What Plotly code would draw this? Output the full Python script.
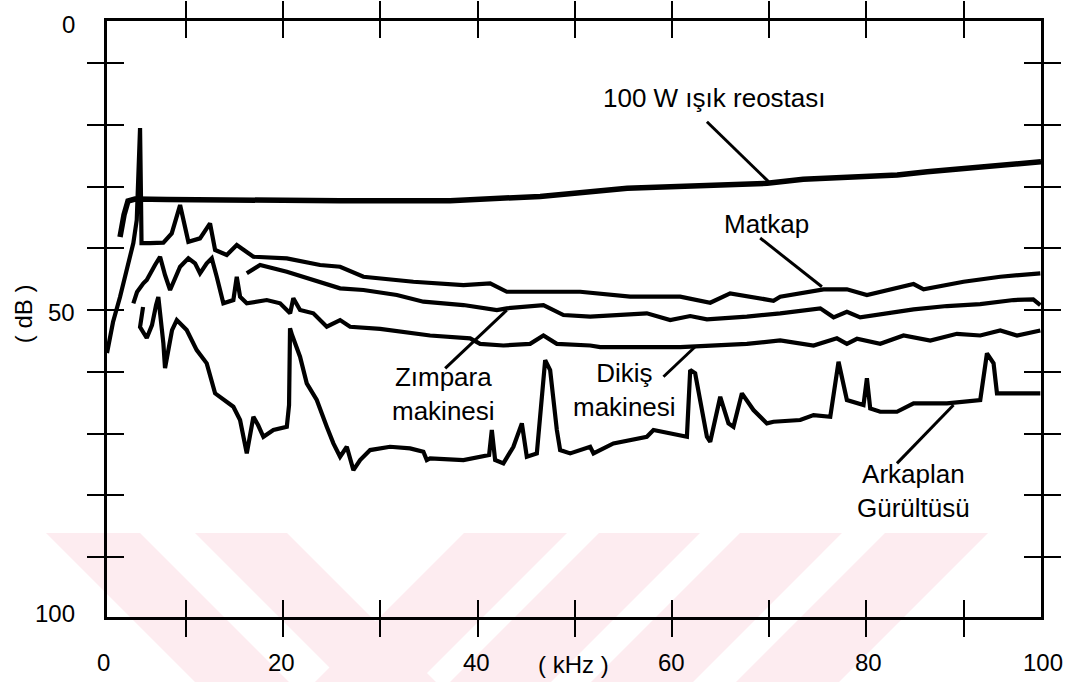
import plotly.graph_objects as go

# ---- measured spectra (frequency in kHz, level in dB) ----
reost_khz = [3.22, 3.63, 4.04, 4.76, 8.06, 16.6, 25.86, 37.18, 46.44, 55.40, 65.27, 69.80,
             73.51, 77.83, 83.18, 86.27, 90.38, 92.75, 95.12, 97.59, 97.97]
reost_db = [38.18, 34.61, 32.35, 32.02, 32.10, 32.27, 32.30, 32.30, 31.60, 30.29, 29.76, 29.48,
            28.83, 28.62, 28.14, 27.60, 27.05, 26.68, 26.36, 26.15, 26.0]

matkap_khz = [1.88, 2.50, 3.22, 3.91, 4.59, 4.94, 5.07, 5.28, 5.38, 5.43, 6.31, 7.68, 8.54,
              9.40, 10.25, 11.45, 12.48, 13.00, 14.20, 15.23, 16.94, 20.38, 23.80, 25.86,
              28.26, 33.40, 38.55, 41.30, 43.01, 48.84, 50.56, 55.70, 60.85, 63.94, 65.99,
              70.45, 71.14, 75.60, 78.00, 80.06, 84.86, 85.89, 90.00, 93.78, 97.90]
matkap_db = [56.96, 51.94, 47.89, 43.52, 39.15, 35.42, 28.46, 20.53, 32.19, 39.15, 39.15,
             39.10, 37.58, 33.00, 38.94, 38.39, 35.96, 40.28, 41.09, 39.47, 41.37, 41.63,
             42.71, 42.99, 44.61, 45.42, 45.95, 45.68, 47.04, 47.04, 47.04, 47.84, 47.84,
             48.82, 47.29, 48.49, 47.84, 46.65, 46.65, 47.57, 45.79, 46.65, 45.42, 44.61, 44.05]

zimpara_khz = [16.26, 17.63, 20.38, 23.11, 25.86, 28.26, 31.70, 34.43, 38.55, 41.99, 43.01,
               46.78, 48.84, 51.59, 57.42, 59.82, 61.88, 63.60, 67.71, 71.14, 75.26, 76.63,
               78.00, 79.37, 82.12, 84.86, 88.29, 91.72, 95.15, 97.17, 97.90]
zimpara_db = [44.05, 42.71, 43.80, 45.14, 46.48, 46.76, 47.57, 48.65, 49.19, 50.00, 49.72,
              49.19, 50.81, 51.08, 50.53, 51.62, 50.97, 51.50, 51.08, 50.53, 49.72, 51.18,
              50.27, 51.18, 50.53, 49.88, 49.35, 49.03, 48.38, 48.27, 49.19]

dikis_khz = [4.59, 4.97, 5.62, 5.97, 6.82, 7.34, 7.85, 8.37, 9.40, 10.25, 10.94, 11.45, 12.14,
             12.66, 13.17, 13.85, 14.88, 15.23, 15.57, 16.26, 18.32, 19.69, 20.72, 21.05,
             21.74, 23.11, 24.49, 25.86, 26.89, 29.98, 35.12, 39.24, 40.27, 42.66, 45.41,
             46.78, 48.16, 51.59, 52.62, 60.85, 67.71, 71.14, 74.57, 76.97, 78.00, 79.04,
             81.43, 83.83, 86.58, 89.32, 91.72, 93.78, 95.50, 97.90]
dikis_db = [48.91, 47.08, 45.68, 45.14, 42.71, 41.37, 44.33, 46.76, 42.99, 41.63, 42.44, 44.05,
            42.44, 41.63, 44.61, 48.91, 48.38, 44.61, 47.84, 48.91, 48.38, 48.91, 50.53, 48.10,
            50.00, 50.53, 52.70, 51.62, 52.70, 53.04, 54.12, 54.58, 55.47, 55.74, 55.47,
            54.12, 55.47, 55.74, 56.00, 56.00, 55.47, 54.93, 55.74, 54.58, 55.47, 54.65,
            55.47, 54.12, 54.93, 53.85, 54.12, 53.31, 54.12, 53.31]

arka_khz = [5.59, 5.28, 5.97, 6.51, 6.93, 7.16, 7.68, 7.85, 8.57, 9.06, 10.08, 11.11, 12.14,
            13.00, 14.88, 15.57, 16.26, 16.94, 17.42, 17.97, 19.00, 20.38, 20.61, 20.71,
            20.92, 21.74, 22.43, 23.46, 24.49, 25.17, 25.86, 26.55, 27.23, 27.92, 28.95,
            31.00, 33.06, 34.43, 34.78, 35.12, 38.55, 40.61, 41.19, 41.47, 41.81, 42.66,
            43.69, 44.56, 45.07, 46.10, 46.65, 46.96, 47.47, 48.16, 48.50, 49.53, 51.59,
            51.93, 53.98, 57.42, 58.10, 60.85, 61.54, 61.88, 62.39, 63.60, 63.94, 64.97,
            65.82, 66.33, 67.20, 68.39, 69.77, 70.45, 73.20, 74.57, 76.29, 77.14, 78.00,
            79.71, 80.06, 80.40, 81.43, 83.15, 84.86, 88.29, 91.72, 92.41, 93.09, 93.44, 97.90]
arka_db = [49.51, 52.75, 54.53, 52.43, 49.19, 47.89, 55.39, 59.39, 53.24, 51.62, 53.24, 56.48,
           58.63, 63.49, 65.66, 67.81, 73.21, 67.28, 68.62, 70.52, 69.43, 68.90, 65.38, 52.96,
           54.05, 57.56, 61.87, 64.57, 68.90, 71.59, 73.76, 72.14, 75.91, 74.29, 72.67,
           72.14, 72.40, 72.95, 74.29, 74.02, 74.29, 73.76, 73.48, 69.43, 74.29, 74.83,
           72.14, 68.35, 73.76, 73.21, 64.57, 58.10, 59.72, 69.43, 72.67, 73.21, 72.14,
           73.21, 71.59, 70.52, 69.43, 70.24, 70.52, 59.72, 60.25, 70.52, 71.33, 64.04,
           68.35, 68.90, 63.49, 66.19, 68.35, 68.09, 67.81, 67.00, 67.28, 58.37, 64.57,
           65.38, 61.06, 65.92, 66.47, 66.47, 65.11, 65.11, 64.57, 57.01, 58.63, 63.49, 63.49]

# ---- labels ----
x_tick_text = ["0", "20", "40", "60", "80", "100"]
y_tick_text = ["0", "50", "100"]
series_labels = ["100 W ışık reostası", "Matkap", "Zımpara<br>makinesi",
                 "Dikiş<br>makinesi", "Arkaplan<br>Gürültüsü"]

# ---- layout geometry ----
W, H = 1065, 682
ML, MR, MT, MB = 107, 24, 21, 65
X_RANGE = [1.88, 97.97]
Y_RANGE = [99.7, 3.2]          # reversed: 0 dB at the top
MINOR_TICKS = [10, 20, 30, 40, 50, 60, 70, 80, 90]
X_LABEL_POS = [1.9, 19.8, 39.9, 60.0, 80.2, 97.95]   # kHz
X_LABEL_SHIFT = [-4, 0, 0, 0, 0, 2]                  # px, corner labels
Y_LABEL_POS = [3.8, 50.4, 99.1]                      # dB

# label anchors (kHz, dB) and leader lines [(x0, y0), (x1, y1)]
label_pos = [(64.40, 15.6), (69.70, 36.1), (36.46, 63.6), (55.09, 63.0), (84.83, 79.3)]
leaders = [((63.60, 19.51), (69.94, 29.22)),
           ((69.08, 38.34), (75.43, 46.23)),
           ((36.67, 59.44), (43.01, 50.00)),
           ((59.13, 60.80), (62.39, 55.94)),
           ((83.15, 74.83), (88.97, 65.38))]

FONT = "Liberation Sans, Arial, Helvetica, sans-serif"
INK = "#000000"

fig = go.Figure()

series = [(reost_khz, reost_db, 5.5), (matkap_khz, matkap_db, 4.2),
          (zimpara_khz, zimpara_db, 4.2), (dikis_khz, dikis_db, 4.2),
          (arka_khz, arka_db, 4.2)]
for xs, ys, w in series:
    fig.add_trace(go.Scatter(x=xs, y=ys, mode="lines",
                             line=dict(color=INK, width=w),
                             showlegend=False, hoverinfo="skip", cliponaxis=False))

# empty traces so the overlay axes carrying the inner half of each tick get drawn
for xa, ya in [("x2", "y"), ("x", "y2")]:
    fig.add_trace(go.Scatter(x=[], y=[], xaxis=xa, yaxis=ya, mode="lines",
                             showlegend=False, hoverinfo="skip"))

# leader lines from each text label to its curve
for (x0, y0), (x1, y1) in leaders:
    fig.add_shape(type="line", xref="x", yref="y", x0=x0, y0=y0, x1=x1, y1=y1,
                  line=dict(color=INK, width=3))

for text, (lx, ly) in zip(series_labels, label_pos):
    fig.add_annotation(x=lx, y=ly, xref="x", yref="y", text=text, showarrow=False,
                       xanchor="center", yanchor="middle",
                       font=dict(family=FONT, size=26, color=INK), align="center")

# tick labels
for t, xv, sh in zip(x_tick_text, X_LABEL_POS, X_LABEL_SHIFT):
    fig.add_annotation(x=xv, y=0, xref="x", yref="paper", xshift=sh, yshift=-45, text=t,
                       showarrow=False, xanchor="center", yanchor="middle",
                       font=dict(family=FONT, size=24, color=INK))
for t, yv in zip(y_tick_text, Y_LABEL_POS):
    fig.add_annotation(x=0, y=yv, xref="paper", yref="y", xshift=-30, text=t,
                       showarrow=False, xanchor="right", yanchor="middle",
                       font=dict(family=FONT, size=24, color=INK))

# pale diagonal watermark band along the bottom of the page
def px_to_paper(px, py):
    return (px - ML) / (W - ML - MR), (H - MB - py) / (H - MT - MB)

band_top, band_bot = 533, 690
stripes = [(46, 140, 1), (195, 287, 1), (464, 567, -1), (599, 700, -1),
           (740, 842, -1), (885, 988, -1)]
for xl, xr, d in stripes:
    dy = band_bot - band_top
    pts = [(xl, band_top), (xr, band_top), (xr + d * dy, band_bot), (xl + d * dy, band_bot)]
    pp = [px_to_paper(a, b) for a, b in pts]
    path = "M " + " L ".join(f"{a:.4f},{b:.4f}" for a, b in pp) + " Z"
    fig.add_shape(type="path", xref="paper", yref="paper", path=path,
                  fillcolor="rgb(253,236,240)", line=dict(width=0), layer="below")

axis_common = dict(showgrid=False, zeroline=False, color=INK, automargin=False)

fig.update_layout(
    width=W, height=H,
    margin=dict(l=ML, r=MR, t=MT, b=MB, pad=0, autoexpand=False),
    paper_bgcolor="white", plot_bgcolor="rgba(0,0,0,0)",
    showlegend=False,
    font=dict(family=FONT, color=INK),
    xaxis=dict(range=X_RANGE, tickmode="array", tickvals=MINOR_TICKS,
               ticks="outside", ticklen=17, tickwidth=2, tickcolor=INK,
               showline=True, linewidth=2.5, linecolor=INK, mirror="ticks",
               showticklabels=False, **axis_common),
    xaxis2=dict(range=X_RANGE, overlaying="x", anchor="y", side="bottom",
                tickmode="array", tickvals=MINOR_TICKS,
                ticks="inside", ticklen=17, tickwidth=2, tickcolor=INK,
                showline=False, mirror="ticks", showticklabels=False, **axis_common),
    yaxis=dict(range=Y_RANGE, tickmode="array", tickvals=MINOR_TICKS,
               ticks="outside", ticklen=17, tickwidth=2, tickcolor=INK,
               showline=True, linewidth=2.5, linecolor=INK, mirror="ticks",
               showticklabels=False, **axis_common),
    yaxis2=dict(range=Y_RANGE, overlaying="y", anchor="x", side="left",
                tickmode="array", tickvals=MINOR_TICKS,
                ticks="inside", ticklen=17, tickwidth=2, tickcolor=INK,
                showline=False, mirror="ticks", showticklabels=False, **axis_common),
)

# axis titles
fig.add_annotation(xref="paper", yref="paper", x=0, y=0.508, xshift=-84,
                   xanchor="center", yanchor="middle",
                   text="( dB )", textangle=-90, showarrow=False,
                   font=dict(family=FONT, size=24, color=INK))
fig.add_annotation(xref="paper", yref="paper", x=0.499, y=0, yshift=-47,
                   xanchor="center", yanchor="middle",
                   text="( kHz )", showarrow=False,
                   font=dict(family=FONT, size=24, color=INK))

fig.write_html("out.html")
